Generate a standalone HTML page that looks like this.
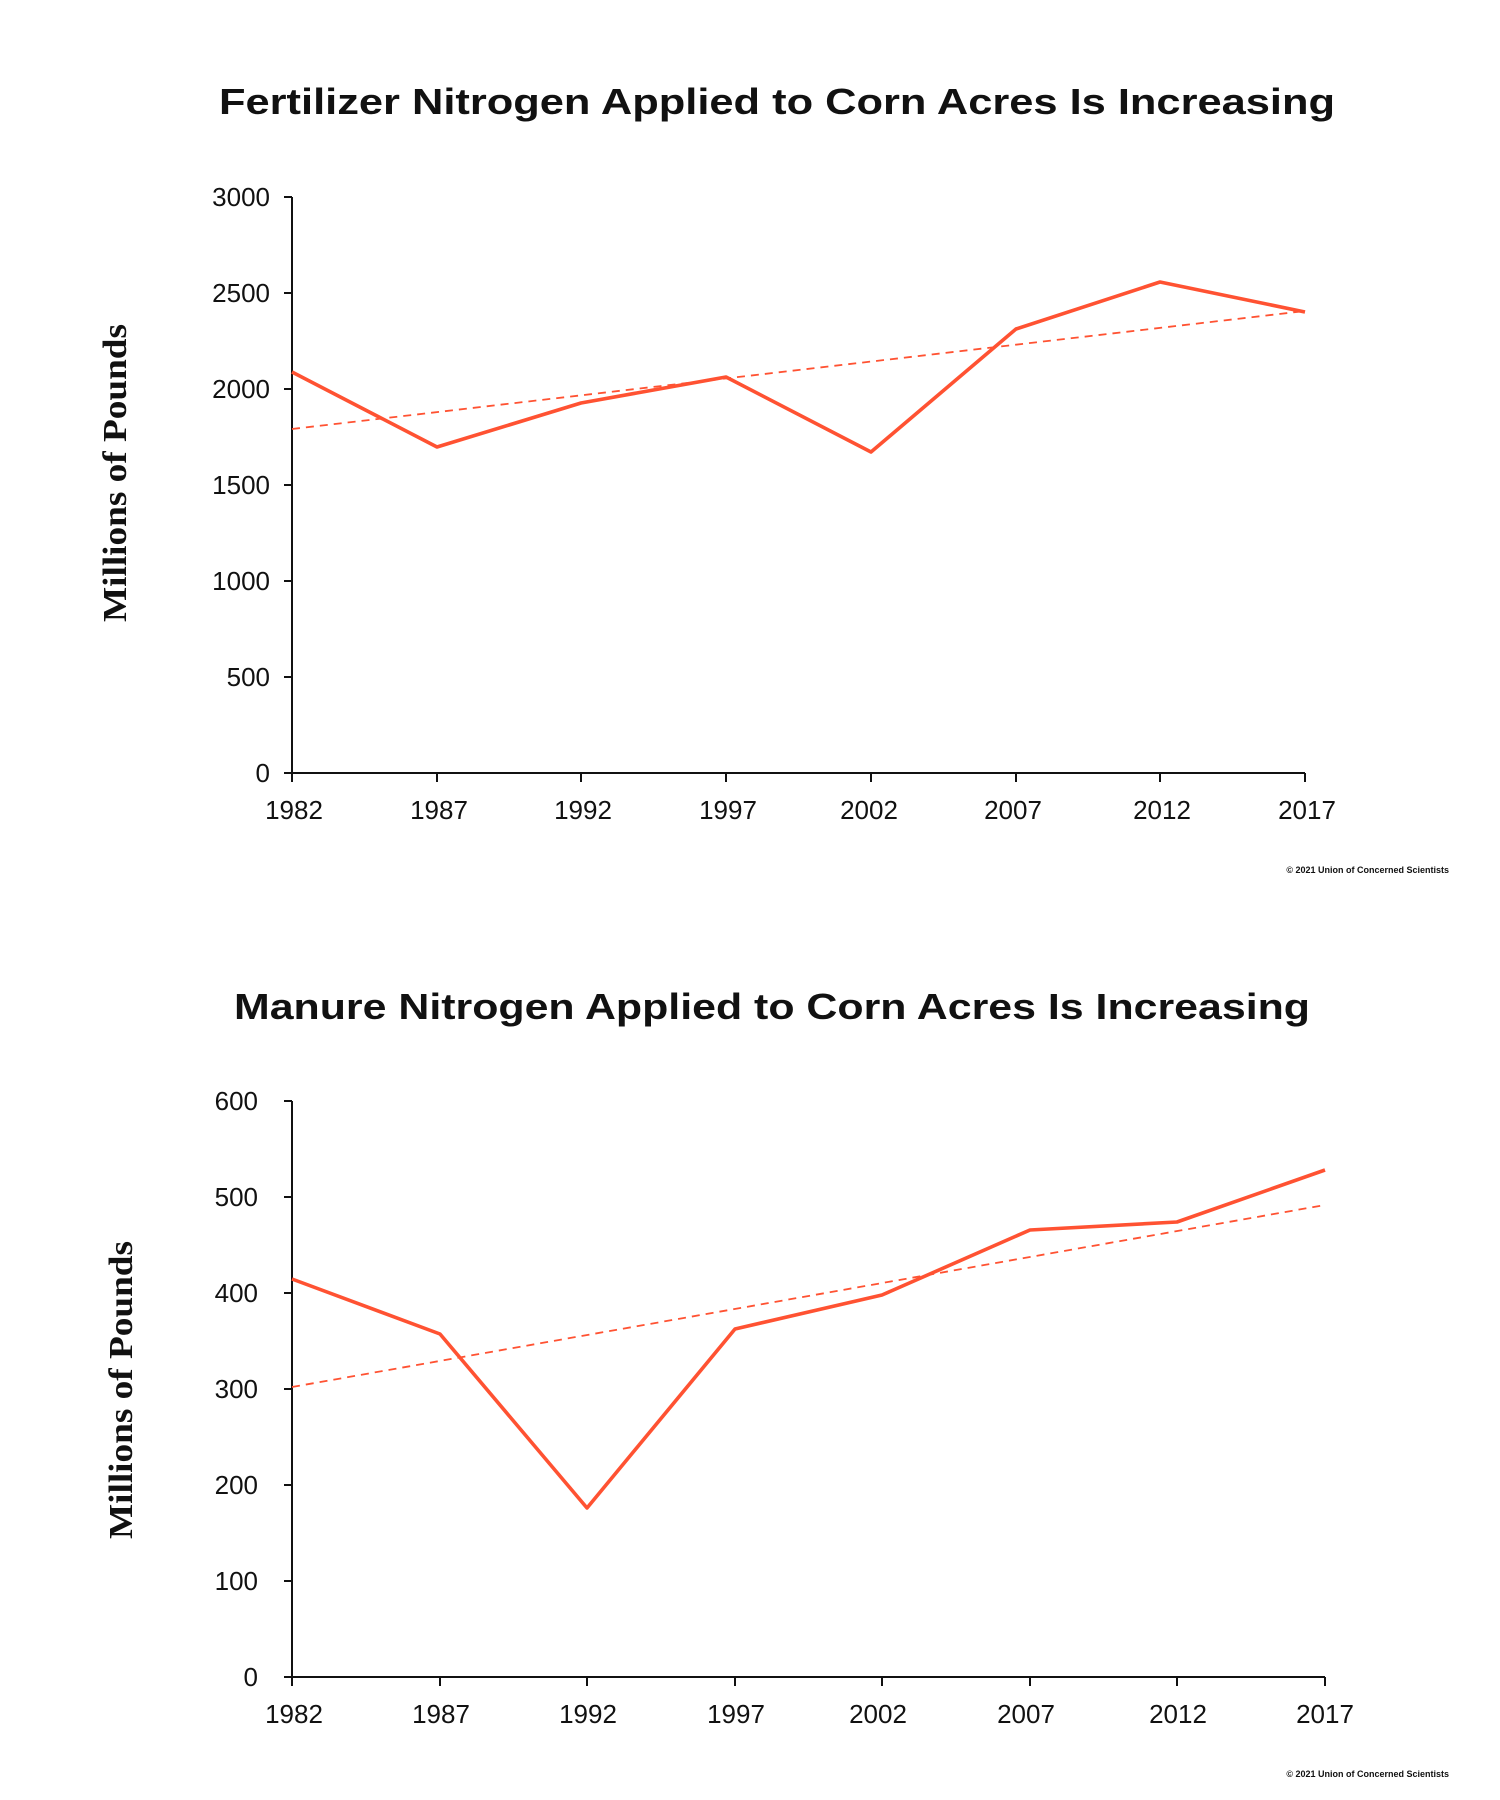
<!DOCTYPE html>
<html><head><meta charset="utf-8"><style>
html,body{margin:0;padding:0;background:#fff;}
svg{display:block;}
.t{font-family:"Liberation Sans",sans-serif;font-weight:bold;font-size:36px;fill:#111;}
.tk{font-family:"Liberation Sans",sans-serif;font-size:26px;fill:#111;}
.yl{font-family:"Liberation Serif",serif;font-weight:bold;font-size:34px;fill:#111;}
.c{font-family:"Liberation Sans",sans-serif;font-weight:bold;font-size:9px;fill:#111;}
</style></head><body>
<svg width="1500" height="1800" xmlns="http://www.w3.org/2000/svg">
<!-- Chart 1 -->
<text class="t" x="777" y="114" text-anchor="middle" textLength="1116" lengthAdjust="spacingAndGlyphs">Fertilizer Nitrogen Applied to Corn Acres Is Increasing</text>
<text class="yl" transform="translate(126,473) rotate(-90)" text-anchor="middle" textLength="298" lengthAdjust="spacingAndGlyphs">Millions of Pounds</text>
<g stroke="#111" stroke-width="2" fill="none">
<line x1="292" y1="197" x2="292" y2="773"/>
<line x1="292" y1="773" x2="1305" y2="773"/>
<line x1="284" y1="197" x2="292" y2="197"/><line x1="284" y1="293" x2="292" y2="293"/><line x1="284" y1="389" x2="292" y2="389"/><line x1="284" y1="485" x2="292" y2="485"/><line x1="284" y1="581" x2="292" y2="581"/><line x1="284" y1="677" x2="292" y2="677"/><line x1="284" y1="773" x2="292" y2="773"/>
<line x1="292" y1="773" x2="292" y2="782"/><line x1="437" y1="773" x2="437" y2="782"/><line x1="581" y1="773" x2="581" y2="782"/><line x1="726" y1="773" x2="726" y2="782"/><line x1="871" y1="773" x2="871" y2="782"/><line x1="1016" y1="773" x2="1016" y2="782"/><line x1="1160" y1="773" x2="1160" y2="782"/><line x1="1305" y1="773" x2="1305" y2="782"/>
</g>
<g class="tk" text-anchor="end">
<text x="270" y="206">3000</text><text x="270" y="302">2500</text><text x="270" y="398">2000</text><text x="270" y="494">1500</text><text x="270" y="590">1000</text><text x="270" y="686">500</text><text x="270" y="782">0</text>
</g>
<g class="tk" text-anchor="middle">
<text x="294" y="819">1982</text><text x="439" y="819">1987</text><text x="583" y="819">1992</text><text x="728" y="819">1997</text><text x="869" y="819">2002</text><text x="1013" y="819">2007</text><text x="1162" y="819">2012</text><text x="1307" y="819">2017</text>
</g>
<polyline fill="none" stroke="#FF5232" stroke-width="1.8" stroke-dasharray="8,6" points="292,429 1305,311"/>
<polyline fill="none" stroke="#FF5232" stroke-width="3.6" stroke-linejoin="round" points="292,372 437,447 581,403 726,377 871,452 1016,329 1160,282 1305,312"/>
<text class="c" x="1449" y="873" text-anchor="end">© 2021 Union of Concerned Scientists</text>

<!-- Chart 2 -->
<text class="t" x="772" y="1019" text-anchor="middle" textLength="1076" lengthAdjust="spacingAndGlyphs">Manure Nitrogen Applied to Corn Acres Is Increasing</text>
<text class="yl" transform="translate(132,1390) rotate(-90)" text-anchor="middle" textLength="298" lengthAdjust="spacingAndGlyphs">Millions of Pounds</text>
<g stroke="#111" stroke-width="2" fill="none">
<line x1="292" y1="1101" x2="292" y2="1677"/>
<line x1="292" y1="1677" x2="1325" y2="1677"/>
<line x1="284" y1="1101" x2="292" y2="1101"/><line x1="284" y1="1197" x2="292" y2="1197"/><line x1="284" y1="1293" x2="292" y2="1293"/><line x1="284" y1="1389" x2="292" y2="1389"/><line x1="284" y1="1485" x2="292" y2="1485"/><line x1="284" y1="1581" x2="292" y2="1581"/><line x1="284" y1="1677" x2="292" y2="1677"/>
<line x1="292" y1="1677" x2="292" y2="1686"/><line x1="440" y1="1677" x2="440" y2="1686"/><line x1="587" y1="1677" x2="587" y2="1686"/><line x1="735" y1="1677" x2="735" y2="1686"/><line x1="882" y1="1677" x2="882" y2="1686"/><line x1="1030" y1="1677" x2="1030" y2="1686"/><line x1="1177" y1="1677" x2="1177" y2="1686"/><line x1="1325" y1="1677" x2="1325" y2="1686"/>
</g>
<g class="tk" text-anchor="end">
<text x="258" y="1110">600</text><text x="258" y="1206">500</text><text x="258" y="1302">400</text><text x="258" y="1398">300</text><text x="258" y="1494">200</text><text x="258" y="1590">100</text><text x="258" y="1686">0</text>
</g>
<g class="tk" text-anchor="middle">
<text x="294" y="1723">1982</text><text x="441" y="1723">1987</text><text x="588" y="1723">1992</text><text x="736" y="1723">1997</text><text x="878" y="1723">2002</text><text x="1026" y="1723">2007</text><text x="1178" y="1723">2012</text><text x="1325" y="1723">2017</text>
</g>
<polyline fill="none" stroke="#FF5232" stroke-width="1.8" stroke-dasharray="8,6" points="292,1387 1325,1205"/>
<polyline fill="none" stroke="#FF5232" stroke-width="3.6" stroke-linejoin="round" points="292,1279 440,1334 587,1508 735,1329 882,1295 1030,1230 1177,1222 1325,1170"/>
<text class="c" x="1449" y="1777" text-anchor="end">© 2021 Union of Concerned Scientists</text>
</svg>
</body></html>
